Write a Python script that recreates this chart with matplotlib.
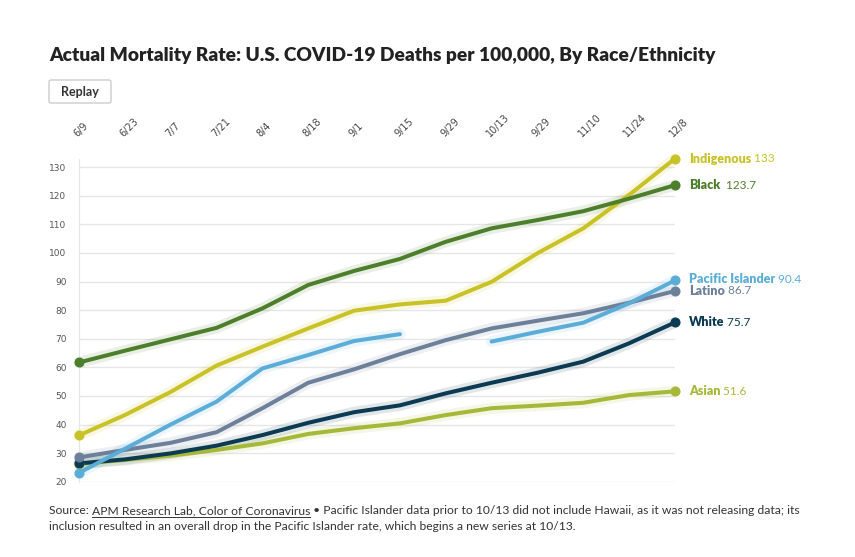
import matplotlib
matplotlib.use('Agg')
import matplotlib.pyplot as plt
from matplotlib.patches import FancyBboxPatch
import numpy as np

# date labels along the top (the second 9/29 is in the original chart)
dates = ['6/9', '6/23', '7/7', '7/21', '8/4', '8/18', '9/1', '9/15', '9/29',
         '10/13', '9/29', '11/10', '11/24', '12/8']

indigenous = [36.2, 43.3, 51.4, 60.6, 67.2, 73.6, 79.8, 82.0, 83.3, 89.9, 99.9, 108.6, 120.3, 133]
black = [61.7, 65.8, 69.8, 73.8, 80.6, 88.8, 93.7, 97.9, 103.9, 108.6, 111.5, 114.6, 119.0, 123.7]
pacific_old = [23.1, 31.5, 40.0, 48.0, 59.6, 64.3, 69.2, 71.6]
pacific_new = [69.0, 72.4, 75.6, 82.4, 90.4]
latino = [28.5, 31.1, 33.6, 37.3, 45.7, 54.6, 59.3, 64.6, 69.5, 73.6, 76.3, 78.9, 82.6, 86.7]
white = [26.4, 27.8, 29.9, 32.6, 36.3, 40.6, 44.3, 46.7, 50.9, 54.6, 58.1, 62.0, 68.4, 75.7]
asian = [26.2, 27.6, 29.1, 31.1, 33.4, 36.7, 38.7, 40.4, 43.3, 45.7, 46.6, 47.6, 50.3, 51.6]

c_ind = '#c8c227'
c_blk = '#4d7e2c'
c_pac = '#5badd8'
c_lat = '#6c809a'
c_wht = '#0b3a52'
c_asi = '#a5b838'

fig = plt.figure(figsize=(8.55, 5.57), dpi=100)
ax = fig.add_axes([79 / 855, 75.3 / 557, 596 / 855, 326 / 557])

x = np.arange(len(dates))


def draw(xs, ys, color, start_dot=True, end_dot=True):
    ax.plot(xs, ys, color=color, lw=8, alpha=0.12, solid_capstyle='round', clip_on=False, zorder=2)
    ax.plot(xs, ys, color=color, lw=2.9, solid_capstyle='round', clip_on=False, zorder=3)
    if start_dot:
        ax.plot(xs[0], ys[0], 'o', color=color, ms=6.2, clip_on=False, zorder=4)
    if end_dot:
        ax.plot(xs[-1], ys[-1], 'o', color=color, ms=6.2, clip_on=False, zorder=4)


draw(x, asian, c_asi)
draw(x, white, c_wht)
draw(x, latino, c_lat)
draw(x[:len(pacific_old)], pacific_old, c_pac, end_dot=False)
draw(x[-len(pacific_new):], pacific_new, c_pac, start_dot=False)
draw(x, indigenous, c_ind)
draw(x, black, c_blk)

ax.set_xlim(0, 13)
ax.set_ylim(20, 134)
ax.set_yticks(range(20, 131, 10))
ax.tick_params(axis='y', length=0, labelsize=6.5, labelcolor='#555555', pad=9)
ax.grid(axis='y', color='#e6e6e6', lw=1)
ax.set_axisbelow(True)
for s in ['top', 'right', 'bottom']:
    ax.spines[s].set_visible(False)
ax.spines['left'].set_color('#e6e6e6')
ax.spines['left'].set_bounds(20, 133)

ax.xaxis.tick_top()
ax.set_xticks(x)
ax.set_xticklabels(dates, fontsize=7, color='#444444')
for lab in ax.get_xticklabels():
    lab.set_rotation(45)
    lab.set_ha('left')
    lab.set_va('bottom')
    lab.set_rotation_mode('anchor')
ax.tick_params(axis='x', length=0, pad=12)

# end labels
labels = [('Indigenous', '133', 133, c_ind), ('Black', ' 123.7', 123.7, c_blk),
          ('Pacific Islander', '90.4', 90.8, c_pac), ('Latino', '86.7', 86.7, c_lat),
          ('White', '75.7', 75.7, c_wht), ('Asian', '51.6', 51.6, c_asi)]
for name, val, y, col in labels:
    t = ax.annotate(name, xy=(13, y), xytext=(10, 0), textcoords='offset points',
                    fontsize=9, fontweight='heavy', color=col, va='center',
                    family='Lato', annotation_clip=False)
    ax.annotate(' ' + val, xycoords=t, xy=(1, 0.5), va='center', fontsize=8.5,
                color=col, family='Lato')

fig.text(49 / 855, 1 - 56 / 557, 'Actual Mortality Rate: U.S. COVID-19 Deaths per 100,000, By Race/Ethnicity',
         fontsize=13.8, fontweight='heavy', color='#222222', family='Lato', va='center')

btn = FancyBboxPatch((49 / 855, 1 - 103 / 557), 62 / 855, 23 / 557, boxstyle='round,pad=0,rounding_size=0.003',
                     transform=fig.transFigure, facecolor='white', edgecolor='#cccccc', lw=1)
fig.add_artist(btn)
fig.text(80 / 855, 1 - 92 / 557, 'Replay', fontsize=9, fontweight='bold', color='#333333',
         family='Lato', ha='center', va='center')

fs = 8.7
src = fig.text(49 / 855, 1 - 511 / 557, 'Source: ', fontsize=fs, color='#333333', family='Lato', va='center')
link = fig.text(0, 0, 'APM Research Lab, Color of Coronavirus', fontsize=fs, color='#333333',
                family='Lato', va='center')
fig.canvas.draw()
r = fig.canvas.get_renderer()
bb = src.get_window_extent(r)
link.set_position((bb.x1 / 855, 1 - 511 / 557))
lb = link.get_window_extent(r)
fig.add_artist(plt.Line2D([lb.x0 / 855, lb.x1 / 855], [(557 - 517) / 557] * 2, color='#333333', lw=0.7,
                          transform=fig.transFigure))
fig.text(lb.x1 / 855, 1 - 511 / 557,
         ' \u2022 Pacific Islander data prior to 10/13 did not include Hawaii, as it was not releasing data; its',
         fontsize=fs, color='#333333', family='Lato', va='center')
fig.text(49 / 855, 1 - 526 / 557,
         'inclusion resulted in an overall drop in the Pacific Islander rate, which begins a new series at 10/13.',
         fontsize=fs, color='#333333', family='Lato', va='center')

fig.savefig('out.png', dpi=100)
